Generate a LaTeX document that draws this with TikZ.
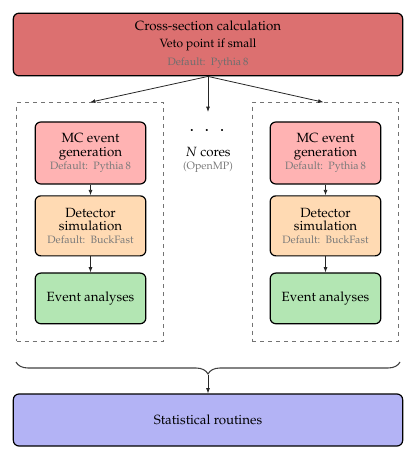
\documentclass[tikz,border=0pt]{standalone}
\usepackage[T1]{fontenc}
\usepackage{mathpazo}
\usepackage{xcolor}
\usepackage{tikz}
\usetikzlibrary{arrows.meta}
\usetikzlibrary{calc}
\usetikzlibrary{positioning}
\usetikzlibrary{decorations.pathreplacing}
\definecolor{xsecred}{HTML}{DC7070}
\definecolor{genpink}{HTML}{FFB3B3}
\definecolor{detorange}{HTML}{FFDAB3}
\definecolor{anagreen}{HTML}{B3E6B3}
\definecolor{statblue}{HTML}{B3B3F5}
\definecolor{defgray}{HTML}{7A7A7A}

\begin{document}
\begin{tikzpicture}[
            x=0.75pt, y=-0.75pt,
            font=\normalsize,
            wide/.style={
                draw=black, line width=0.9pt, rounded corners=0.15cm,
                minimum width=292pt, align=center,
            },
            task/.style={
                draw=black, line width=0.9pt, rounded corners=0.15cm,
                minimum width=83pt, align=center, inner sep=2pt,
            },
            core/.style={
                draw=black!55, dashed, line width=0.6pt,
                minimum width=110pt, minimum height=179pt,
            },
            default/.style={font=\footnotesize, text=defgray},
            flow/.style={-{Latex[length=4pt, width=3pt]}, line width=0.6pt, black!85},
        ]
            \useasboundingbox (0,0) rectangle (416,459);

            % --- cross-section step ---
            \node[wide, fill=xsecred, minimum height=47pt] (xsec) at (208,44.5)
                {Cross-section calculation\\[1pt]
                 {\small Veto point if small}\\[1pt]
                 {\footnotesize\color{defgray!90!black} Default:\ \ Pythia\,8}};

            % --- one dashed frame per core ---
            \node[core] (coreL) at (90,222) {};
            \node[core] (coreR) at (325.5,222) {};

            % --- chain inside each core ---
            \foreach \side/\x in {L/90.5, R/325.5} {
                \node[task, fill=genpink, minimum height=46.5pt] (gen\side) at (\x,153)
                    {MC event\\[-2pt] generation\\[-2pt]
                     {\footnotesize\color{defgray} Default:\ \ Pythia\,8}};
                \node[task, fill=detorange, minimum height=45pt, below=8pt of gen\side] (det\side)
                    {Detector\\[-2pt] simulation\\[-2pt]
                     {\footnotesize\color{defgray} Default:\ \ BuckFast}};
                \node[task, fill=anagreen, minimum height=38pt, below=12pt of det\side] (ana\side)
                    {Event analyses};
                \draw[flow] (gen\side) -- (det\side);
                \draw[flow] (det\side) -- (ana\side);
            }

            % --- parallel cores note ---
            \node (dots) at (207,131) {\Large$\cdot\;\cdot\;\cdot$};
            \node[inner sep=1pt] (ncores) at (208,152) {$N$ cores};
            \node[default, inner sep=1pt, below=1pt of ncores] (omp) {(OpenMP)};
            \coordinate (midend) at (208,112);

            % --- fan out from the cross-section step ---
            \draw[flow] (xsec.south) -- (coreL.north);
            \draw[flow] (xsec.south) -- (midend);
            \draw[flow] (xsec.south) -- ($(coreR.north)+(-2,0)$);

            % --- gather all cores into the statistics ---
            \draw[decorate, decoration={brace, mirror, amplitude=9pt}, line width=0.8pt, black!75]
                (16,362) -- (400,362);
            \coordinate (bracetip) at (208,375);
            \node[wide, fill=statblue, minimum height=39pt] (stat) at (208,420) {Statistical routines};
            \draw[flow] (bracetip) -- (stat.north);
        \end{tikzpicture}
\end{document}
